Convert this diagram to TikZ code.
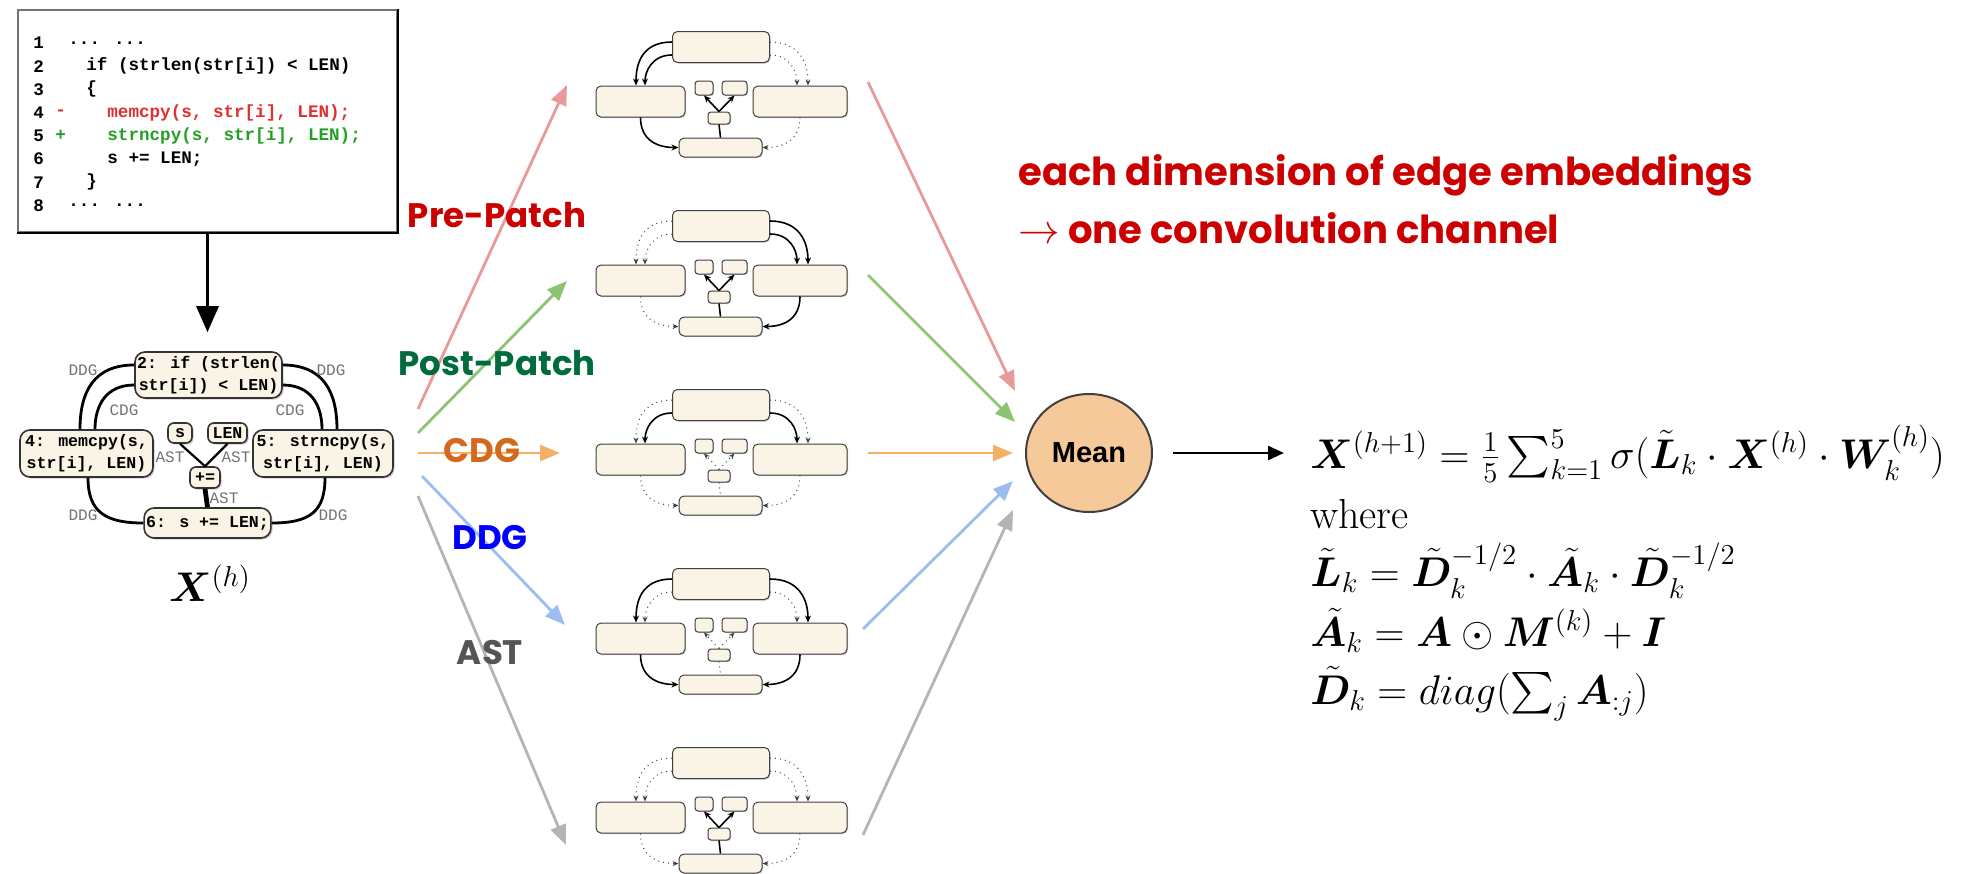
\documentclass[tikz,border=0pt]{standalone}
\usepackage{amsmath,bm}
\usepackage{fontspec}
\newfontfamily\codefont{Liberation Mono}
\newfontfamily\comicfont{Poppins}
\newfontfamily\meanfont{Liberation Sans}
\usetikzlibrary{arrows.meta,calc,shadows,shapes.geometric}
\definecolor{cream}{HTML}{FAF4E6}
\definecolor{pinkc}{HTML}{E89A9A}
\definecolor{greenc}{HTML}{8DC474}
\definecolor{orangec}{HTML}{F4B066}
\definecolor{bluec}{HTML}{9DBCF0}
\definecolor{grayc}{HTML}{B4B4B4}
\definecolor{redtxt}{HTML}{CC0000}
\definecolor{greentxt}{HTML}{006B3C}
\definecolor{orangetxt}{HTML}{D2691E}
\definecolor{bluetxt}{HTML}{0000FF}
\definecolor{graytxt}{HTML}{555555}
\definecolor{codered}{HTML}{E03030}
\definecolor{codegreen}{HTML}{22A022}
\definecolor{meanfill}{HTML}{F6C99A}
\tikzset{
  codebox/.style={draw=black!55, line width=0.8pt, fill=white, inner sep=0pt},
  codetxt/.style={anchor=west, inner sep=0pt, font=\codefont\bfseries\fontsize{8.8}{10}\selectfont},
  gbox/.style={draw=black!80, fill=cream, rounded corners=5pt, line width=0.8pt, inner sep=1pt,
    align=center, font=\codefont\bfseries\fontsize{8.3}{11}\selectfont,
    drop shadow={shadow xshift=0.8pt, shadow yshift=-0.8pt, fill=black!40}},
  mbox/.style={draw=black!75, fill=cream, rounded corners=2.5pt, line width=0.5pt, inner sep=0pt,
    drop shadow={shadow xshift=0.5pt, shadow yshift=-0.5pt, fill=black!40}},
  bigedge/.style={draw=black, line width=1.4pt},
  elabel/.style={inner sep=0pt, text=black!55, font=\codefont\fontsize{8}{8}\selectfont},
  solidedge/.style={draw=black, line width=0.8pt, -{Stealth[length=3.5pt,width=3pt]}},
  dotedge/.style={draw=black!75, line width=0.5pt, dotted, -{Stealth[length=3pt,width=2.5pt]}},
  colarrow/.style={line width=1.4pt, -{Triangle[length=10pt,width=8pt]}},
  lab/.style={inner sep=0pt, font=\comicfont\bfseries\fontsize{17}{17}\selectfont},
  fline/.style={anchor=base west, inner sep=0pt, font=\fontsize{21}{24}\selectfont},
  anntxt/.style={anchor=west, inner sep=0pt, text=redtxt, font=\comicfont\bfseries\fontsize{19.3}{19.3}\selectfont},
}
\newcommand\minigraph[9]{%
  \node[mbox, minimum width=48.5pt, minimum height=15.5pt] (#1t) at (721,#2) {};
  \node[mbox, minimum width=44.5pt, minimum height=15.5pt] (#1l) at (640.5,#2+54.5) {};
  \node[mbox, minimum width=47pt, minimum height=15.5pt] (#1r) at (800,#2+54.5) {};
  \node[mbox, minimum width=41.5pt, minimum height=9.5pt] (#1b) at (720.5,#2+100.5) {};
  \node[mbox, minimum width=9pt, minimum height=7pt, rounded corners=1.5pt] (#1s) at (704,#2+41) {};
  \node[mbox, minimum width=12.5pt, minimum height=7pt, rounded corners=1.5pt] (#1n) at (734.5,#2+41) {};
  \node[mbox, minimum width=11pt, minimum height=6pt, rounded corners=1.5pt] (#1m) at (719,#2+71) {};
  \draw[#3] ($(#1t.west)+(0,-5)$) .. controls +(-30,0) and +(0,-22) .. ($(#1l.north)+(-4.5,0)$);
  \draw[#4] ($(#1t.west)+(0,8)$) .. controls +(-20,0) and +(0,-14) .. ($(#1l.north)+(4.5,0)$);
  \draw[#5] (#1l.south) .. controls +(0,22) and +(-22,0) .. (#1b.west);
  \draw[#6] ($(#1t.east)+(0,-5)$) .. controls +(30,0) and +(0,-22) .. ($(#1r.north)+(8,0)$);
  \draw[#7] ($(#1t.east)+(0,8)$) .. controls +(20,0) and +(0,-14) .. ($(#1r.north)+(-3,0)$);
  \draw[#8] (#1r.south) .. controls +(0,22) and +(22,0) .. (#1b.east);
  \draw[#9] (#1m.north) -- (#1s.south);
  \draw[#9] (#1m.north) -- (#1n.south);
  \draw[#9,-] (#1m.south) -- (#1b.north);
}
\begin{document}
\begin{tikzpicture}[x=0.5pt,y=-0.5pt]
\useasboundingbox (0,0) rectangle (1987,873);

% ---------------- code box
\node[codebox, minimum width=189.5pt, minimum height=111pt] (code) at (207.5,121) {};
\draw[line width=1.2pt] (code.north east) -- (code.south east) -- (code.south west);
\node[codetxt] (n1) at (33,43) {1};
\node[codetxt] (t1) at (68,43) {... ...};
\node[codetxt] (n2) at (33,66.2) {2};
\node[codetxt] (t2) at (86,66.2) {if (strlen(str[i]) < LEN)};
\node[codetxt] (n3) at (33,89.4) {3};
\node[codetxt] (t3) at (86,89.4) {\{};
\node[codetxt] (n4) at (33,112.6) {4};
\node[codetxt, text=codered] (s4) at (55,112.6) {-};
\node[codetxt, text=codered] (t4) at (107,112.6) {memcpy(s, str[i], LEN);};
\node[codetxt] (n5) at (33,135.8) {5};
\node[codetxt, text=codegreen] (s5) at (55,135.8) {+};
\node[codetxt, text=codegreen] (t5) at (107,135.8) {strncpy(s, str[i], LEN);};
\node[codetxt] (n6) at (33,159) {6};
\node[codetxt] (t6) at (107,159) {s += LEN;};
\node[codetxt] (n7) at (33,182.2) {7};
\node[codetxt] (t7) at (86,182.2) {\}};
\node[codetxt] (n8) at (33,205.4) {8};
\node[codetxt] (t8) at (68,205.4) {... ...};

% ---------------- big graph
\node[gbox, minimum width=73.5pt, minimum height=23pt] (gt) at (208.5,375) {2: if (strlen(\\str[i]) < LEN)};
\node[gbox, minimum width=66.5pt, minimum height=23.5pt] (gl) at (86.5,453.5) {4: memcpy(s,\\str[i], LEN)};
\node[gbox, minimum width=70pt, minimum height=23.5pt] (gr) at (323,453.5) {5: strncpy(s,\\str[i], LEN)};
\node[gbox, minimum width=62.5pt, minimum height=15pt] (gb) at (207.5,523) {6: s += LEN;};
\node[gbox, minimum width=12pt, minimum height=10pt, rounded corners=3pt] (gs) at (180,433) {s};
\node[gbox, minimum width=19.5pt, minimum height=10pt, rounded corners=3pt] (gn) at (227.5,433) {LEN};
\node[gbox, minimum width=15pt, minimum height=10.5pt, rounded corners=3pt] (gm) at (205,477.5) {+=};

\draw[bigedge] ($(gt.west)+(0,-10)$) .. controls +(-40,0) and +(0,-38) .. ($(gl.north)+(-6.5,0)$);
\draw[bigedge] ($(gt.west)+(0,10)$) .. controls +(-28,0) and +(0,-24) .. ($(gl.north)+(8.5,0)$);
\draw[bigedge] ($(gt.east)+(0,-10)$) .. controls +(40,0) and +(0,-38) .. ($(gr.north)+(14,0)$);
\draw[bigedge] ($(gt.east)+(0,10)$) .. controls +(28,0) and +(0,-24) .. ($(gr.north)+(-1,0)$);
\draw[bigedge] ($(gl.south)+(1.5,0)$) .. controls +(0,34) and +(-38,0) .. (gb.west);
\draw[bigedge] ($(gr.south)+(2,0)$) .. controls +(0,34) and +(38,0) .. (gb.east);
\draw[bigedge, line width=1.1pt] (gs.south) -- (gm.north);
\draw[bigedge, line width=1.1pt] (gn.south) -- (gm.north);
\draw[bigedge, line width=2.4pt] (gm.south) -- (gb.north);

\node[elabel] (la1) at (83,370) {DDG};
\node[elabel] (la2) at (124,410) {CDG};
\node[elabel] (la3) at (331,370) {DDG};
\node[elabel] (la4) at (290,410) {CDG};
\node[elabel] (la5) at (170,457) {AST};
\node[elabel] (la6) at (236,457) {AST};
\node[elabel] (la7) at (224,498) {AST};
\node[elabel] (la8) at (83,515) {DDG};
\node[elabel] (la9) at (333,515) {DDG};

\draw[line width=1.5pt, -{Triangle[length=13pt,width=11pt]}, shorten >=9.5pt] (code.south) -- (code.south |- gt.north);

\node[inner sep=0pt, font=\fontsize{20}{24}\selectfont] (xh) at (210,583) {$\bm{X}^{(h)}$};

% ---------------- arrows to mini graphs
\coordinate (p0) at (418,409); \coordinate (p1) at (567,85);
\coordinate (q0) at (418,433); \coordinate (q1) at (567,281);
\coordinate (o0) at (418,453); \coordinate (o1) at (560,453);
\coordinate (b0) at (422,476); \coordinate (b1) at (565,625);
\coordinate (a0) at (418,496); \coordinate (a1) at (566,845);
\draw[colarrow, pinkc] (p0) -- (p1);
\draw[colarrow, greenc] (q0) -- (q1);
\draw[colarrow, orangec] (o0) -- (o1);
\draw[colarrow, bluec] (b0) -- (b1);
\draw[colarrow, grayc] (a0) -- (a1);

\node[lab, text=redtxt] (lpre) at (497,215) {Pre-Patch};
\node[lab, text=greentxt] (lpost) at (497,363) {Post-Patch};
\node[lab, text=orangetxt] (lcdg) at (482,451) {CDG};
\node[lab, text=bluetxt] (lddg) at (490,538) {DDG};
\node[lab, text=graytxt] (last) at (490,653) {AST};

% ---------------- mini graphs
\minigraph{ga}{47}{solidedge}{solidedge}{solidedge}{dotedge}{dotedge}{dotedge}{solidedge}
\minigraph{gbb}{226}{dotedge}{dotedge}{dotedge}{solidedge}{solidedge}{solidedge}{solidedge}
\minigraph{gc}{405}{dotedge}{solidedge}{dotedge}{dotedge}{solidedge}{dotedge}{dotedge}
\minigraph{gd}{584}{solidedge}{dotedge}{solidedge}{solidedge}{dotedge}{solidedge}{dotedge}
\minigraph{ge}{763}{dotedge}{dotedge}{dotedge}{dotedge}{dotedge}{dotedge}{solidedge}

% ---------------- mean
\node[ellipse, draw=black!75, line width=1pt, fill=meanfill, minimum width=63pt, minimum height=59pt,
  inner sep=0pt, font=\meanfont\bfseries\fontsize{14.5}{14.5}\selectfont] (mean) at (1089,453) {Mean};

\coordinate (pm0) at (868,82);  \coordinate (pm1) at (1015,391);
\coordinate (qm0) at (868,275); \coordinate (qm1) at (1015,422);
\coordinate (om0) at (868,453); \coordinate (om1) at (1013,453);
\coordinate (bm0) at (863,629); \coordinate (bm1) at (1013,481);
\coordinate (am0) at (863,835); \coordinate (am1) at (1013,510);
\draw[colarrow, pinkc] (pm0) -- (pm1);
\draw[colarrow, greenc] (qm0) -- (qm1);
\draw[colarrow, orangec] (om0) -- (om1);
\draw[colarrow, bluec] (bm0) -- (bm1);
\draw[colarrow, grayc] (am0) -- (am1);

% ---------------- formula
\node[fline] (f1) at (1310,468) {$\bm{X}^{(h+1)}=\frac{1}{5}\sum_{k=1}^{5}\sigma(\tilde{\bm{L}}_k\cdot\bm{X}^{(h)}\cdot\bm{W}_k^{(h)})$};
\node[fline] (f2) at (1310,528) {where};
\node[fline] (f3) at (1310,586) {$\tilde{\bm{L}}_k=\tilde{\bm{D}}_k^{-1/2}\cdot\tilde{\bm{A}}_k\cdot\tilde{\bm{D}}_k^{-1/2}$};
\node[fline] (f4) at (1310,646) {$\tilde{\bm{A}}_k=\bm{A}\odot\bm{M}^{(k)}+\bm{I}$};
\node[fline] (f5) at (1310,704) {$\tilde{\bm{D}}_k=diag(\sum_j\bm{A}_{:j})$};

\draw[line width=1.2pt, -{Triangle[length=8pt,width=7pt]}, shorten <=10pt, shorten >=13pt] (mean.east) -- (mean.east -| f1.west);

% ---------------- annotation
\node[anntxt] (ann1) at (1018,175) {each dimension of edge embeddings};
\node[anntxt] (ann2) at (1018,228) {$\rightarrow$ one convolution channel};
\end{tikzpicture}
\end{document}
